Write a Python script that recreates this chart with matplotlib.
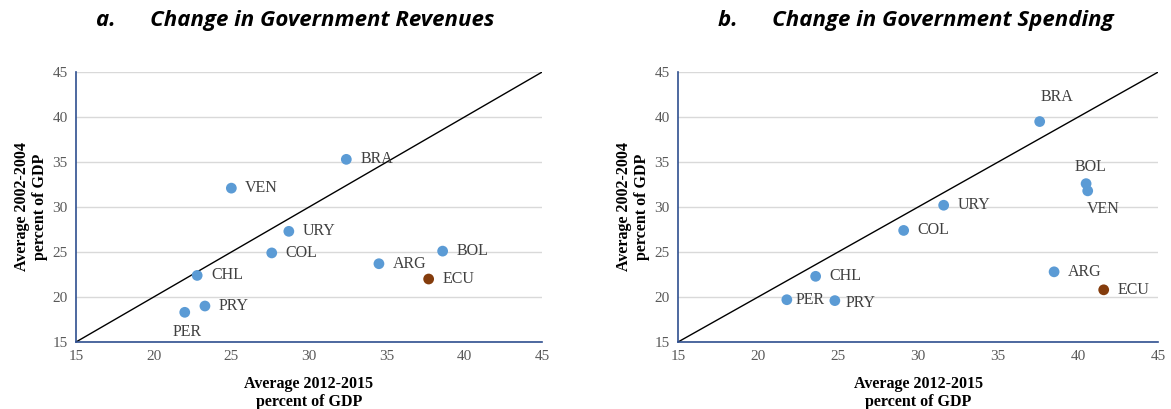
import matplotlib.pyplot as plt

# Country codes and shares of GDP (x: avg 2012-2015, y: avg 2002-2004)
rev_countries = ['BRA', 'VEN', 'URY', 'COL', 'CHL', 'PRY', 'PER', 'ARG', 'BOL', 'ECU']
rev_x = [32.4, 25.0, 28.7, 27.6, 22.8, 23.3, 22.0, 34.5, 38.6, 37.7]
rev_y = [35.3, 32.1, 27.3, 24.9, 22.4, 19.0, 18.3, 23.7, 25.1, 22.0]

spend_countries = ['BRA', 'BOL', 'VEN', 'URY', 'COL', 'CHL', 'PER', 'PRY', 'ARG', 'ECU']
spend_x = [37.6, 40.5, 40.6, 31.6, 29.1, 23.6, 21.8, 24.8, 38.5, 41.6]
spend_y = [39.5, 32.6, 31.8, 30.2, 27.4, 22.3, 19.7, 19.6, 22.8, 20.8]

# label offsets in points for each country
rev_offsets = {'PER': (-9, -14)}
spend_offsets = {'BRA': (1, 18), 'BOL': (-8, 12), 'VEN': (-1, -13), 'PER': (6, 0), 'PRY': (8, -2)}

BLUE = '#5B9BD5'
BROWN = '#843C0C'
SPINE = '#2F4F8F'


def draw_panel(ax, countries, xs, ys, offsets, title, title_x):
    colors = [BROWN if c == 'ECU' else BLUE for c in countries]
    ax.plot([15, 45], [15, 45], color='black', lw=1.0, zorder=2)
    ax.scatter(xs, ys, s=60, c=colors, zorder=3, linewidths=0)
    for c, x, y in zip(countries, xs, ys):
        dx, dy = offsets.get(c, (10, 0))
        ax.annotate(c, (x, y), xytext=(dx, dy), textcoords='offset points',
                    fontsize=11.5, family='Liberation Serif', color='#404040',
                    va='center', ha='left')
    ax.set_xlim(15, 45)
    ax.set_ylim(15, 45)
    ax.set_xticks(range(15, 50, 5))
    ax.set_yticks(range(15, 50, 5))
    ax.grid(axis='y', color='#D9D9D9', lw=1)
    ax.set_axisbelow(True)
    for s in ['top', 'right']:
        ax.spines[s].set_visible(False)
    for s in ['left', 'bottom']:
        ax.spines[s].set_color(SPINE)
        ax.spines[s].set_linewidth(1.2)
    ax.tick_params(length=0, labelsize=11, labelcolor='#595959', pad=6)
    for lab in ax.get_xticklabels() + ax.get_yticklabels():
        lab.set_family('Liberation Serif')
    ax.set_xlabel('Average 2012-2015\npercent of GDP', fontsize=11.5,
                  family='Liberation Serif', fontweight='bold', linespacing=1.2, labelpad=9)
    ax.set_ylabel('Average 2002-2004\npercent of GDP', fontsize=11.5,
                  family='Liberation Serif', fontweight='bold', linespacing=1.2, labelpad=3)
    ax.set_title(title, fontsize=16, fontweight='bold', style='italic',
                 family='Open Sans', pad=33, x=title_x)


fig = plt.figure(figsize=(11.71, 4.09), dpi=100)
ax1 = fig.add_axes([0.0649, 0.1638, 0.398, 0.660])
ax2 = fig.add_axes([0.579, 0.1638, 0.41, 0.660])

draw_panel(ax1, rev_countries, rev_x, rev_y, rev_offsets,
           'a.      Change in Government Revenues', 0.47)
draw_panel(ax2, spend_countries, spend_x, spend_y, spend_offsets,
           'b.      Change in Government Spending', 0.495)

fig.savefig('out.png', dpi=100)
